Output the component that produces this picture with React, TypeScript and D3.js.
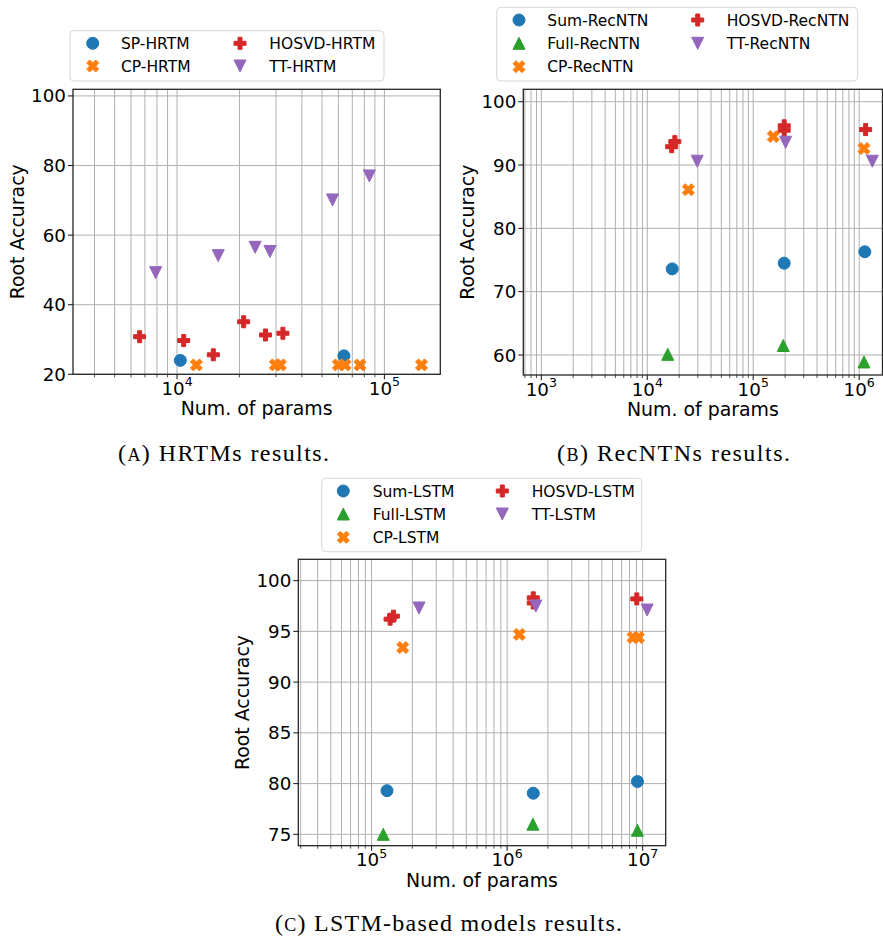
import React from "react";
import * as d3 from "d3";

// ---------------- DATA ----------------
// (A) HRTMs
const spHrtmParams = [10370, 63800];
const spHrtmAcc = [24.0, 25.3];
const cpHrtmParams = [12400, 29800, 31500, 60000, 64600, 76200, 151000];
const cpHrtmAcc = [22.7, 22.7, 22.7, 22.7, 22.7, 22.7, 22.7];
const hosvdHrtmParams = [6600, 10770, 14960, 20950, 26700, 32400];
const hosvdHrtmAcc = [30.8, 29.7, 25.6, 35.1, 31.3, 31.8];
const ttHrtmParams = [7890, 15800, 23800, 28060, 56200, 84600];
const ttHrtmAcc = [49.2, 54.1, 56.5, 55.3, 70.1, 77.0];

// (B) RecNTNs
const sumRecParams = [17200, 196000, 1130000];
const sumRecAcc = [73.6, 74.5, 76.3];
const fullRecParams = [15600, 192000, 1110000];
const fullRecAcc = [60.1, 61.5, 58.9];
const cpRecParams = [24400, 154600, 1110000];
const cpRecAcc = [86.1, 94.5, 92.6];
const hosvdRecParams = [17000, 18200, 196000, 196000, 1150000];
const hosvdRecAcc = [92.9, 93.7, 96.2, 95.5, 95.6];
const ttRecParams = [29600, 202000, 1330000];
const ttRecAcc = [90.6, 93.6, 90.6];

// (C) LSTM
const sumLstmParams = [130000, 1560000, 9160000];
const sumLstmAcc = [79.3, 79.05, 80.2];
const fullLstmParams = [122000, 1550000, 9160000];
const fullLstmAcc = [75.0, 76.0, 75.4];
const cpLstmParams = [170000, 1230000, 8500000, 9300000];
const cpLstmAcc = [93.4, 94.7, 94.4, 94.4];
const hosvdLstmParams = [137000, 145000, 1560000, 1560000, 9060000];
const hosvdLstmAcc = [96.2, 96.5, 98.3, 97.8, 98.2];
const ttLstmParams = [224000, 1630000, 10800000];
const ttLstmAcc = [97.3, 97.5, 97.1];

// Axis ticks
const yTicksA = [20, 40, 60, 80, 100];
const yTicksB = [60, 70, 80, 90, 100];
const yTicksC = [75, 80, 85, 90, 95, 100];
const xExpA = [4, 5];
const xExpB = [3, 4, 5, 6];
const xExpC = [5, 6, 7];

const xAxisLabel = "Num. of params";
const yAxisLabel = "Root Accuracy";

const C = {
  blue: "#1f77b4",
  orange: "#ff7f0e",
  green: "#2ca02c",
  red: "#d62728",
  purple: "#9467bd",
};

type Shape = "circle" | "x" | "plus" | "tri" | "triDown";
interface Series {
  label: string;
  xs: number[];
  ys: number[];
  color: string;
  shape: Shape;
}

function markerPath(shape: Shape, s: number): string {
  const h = s / 2;
  if (shape === "circle") {
    return `M${h},0A${h},${h} 0 1,1 ${-h},0A${h},${h} 0 1,1 ${h},0Z`;
  }
  if (shape === "tri") return `M0,${-h}L${h},${h}L${-h},${h}Z`;
  if (shape === "triDown") return `M0,${h}L${h},${-h}L${-h},${-h}Z`;
  let pts: number[][];
  if (shape === "plus") {
    pts = [[-1, -3], [1, -3], [1, -1], [3, -1], [3, 1], [1, 1], [1, 3], [-1, 3], [-1, 1], [-3, 1], [-3, -1], [-1, -1]].map(
      ([a, b]) => [(a / 6) * s, (b / 6) * s]
    );
  } else {
    pts = [[-1, -2], [0, -1], [1, -2], [2, -1], [1, 0], [2, 1], [1, 2], [0, 1], [-1, 2], [-2, 1], [-1, 0], [-2, -1]].map(
      ([a, b]) => [(a / 4) * s, (b / 4) * s]
    );
  }
  return "M" + pts.map((p) => p.join(",")).join("L") + "Z";
}

const MS = 12;

function Marker({ shape, color, x, y }: { shape: Shape; color: string; x: number; y: number }) {
  return (
    <path
      d={markerPath(shape, MS)}
      transform={`translate(${x},${y})`}
      fill={color}
      stroke={color}
      strokeWidth={1}
    />
  );
}

interface PanelProps {
  box: { left: number; top: number; right: number; bottom: number };
  xDomain: [number, number];
  yDomain: [number, number];
  yTicks: number[];
  xExps: number[];
  series: Series[];
  yLabelX: number;
  legend: { x0: number; y0: number; x1: number; y1: number; rows: number[]; mx: number[]; tx: number[]; perCol: number };
}

const FONT = "DejaVu Sans, sans-serif";

function Panel(p: PanelProps) {
  const { box } = p;
  const x = d3.scaleLog().domain(p.xDomain).range([box.left, box.right]);
  const y = d3.scaleLinear().domain(p.yDomain).range([box.bottom, box.top]);
  const allX = x.ticks();
  const grid = "#b0b0b0";
  const cy = (box.top + box.bottom) / 2;
  const cx = (box.left + box.right) / 2;
  return (
    <g>
      {allX.map((v, i) => (
        <line key={"gx" + i} x1={x(v)} x2={x(v)} y1={box.top} y2={box.bottom} stroke={grid} strokeWidth={1} />
      ))}
      {p.yTicks.map((v, i) => (
        <line key={"gy" + i} x1={box.left} x2={box.right} y1={y(v)} y2={y(v)} stroke={grid} strokeWidth={1} />
      ))}
      {allX.map((v, i) => {
        const major = p.xExps.some((e) => Math.abs(Math.pow(10, e) - v) < 1e-6 * v);
        return (
          <line
            key={"tx" + i}
            x1={x(v)}
            x2={x(v)}
            y1={box.bottom}
            y2={box.bottom + (major ? 5 : 3)}
            stroke="#222"
            strokeWidth={major ? 1.1 : 0.8}
          />
        );
      })}
      {p.yTicks.map((v, i) => (
        <line key={"ty" + i} x1={box.left - 5} x2={box.left} y1={y(v)} y2={y(v)} stroke="#222" strokeWidth={1.1} />
      ))}
      {p.yTicks.map((v, i) => (
        <text
          key={"ly" + i}
          x={box.left - 7}
          y={y(v)}
          dy="0.36em"
          textAnchor="end"
          fontFamily={FONT}
          fontSize={18.3}
          fill="#000"
        >
          {v}
        </text>
      ))}
      {p.xExps.map((e, i) => (
        <text
          key={"lx" + i}
          x={x(Math.pow(10, e))}
          y={box.bottom + 20.5}
          textAnchor="middle"
          fontFamily={FONT}
          fontSize={18.3}
          fill="#000"
        >
          10
          <tspan dy={-8.5} fontSize={12.5}>
            {e}
          </tspan>
        </text>
      ))}
      <text x={cx} y={box.bottom + 41} textAnchor="middle" fontFamily={FONT} fontSize={18.9} fill="#000">
        {xAxisLabel}
      </text>
      <text
        transform={`translate(${p.yLabelX},${cy}) rotate(-90)`}
        textAnchor="middle"
        fontFamily={FONT}
        fontSize={18.9}
        fill="#000"
      >
        {yAxisLabel}
      </text>
      <g>
        {p.series.map((s, si) =>
          s.xs.map((xv, i) => (
            <Marker key={`m${si}-${i}`} shape={s.shape} color={s.color} x={x(xv)} y={y(s.ys[i])} />
          ))
        )}
      </g>
      <rect
        x={box.left}
        y={box.top}
        width={box.right - box.left}
        height={box.bottom - box.top}
        fill="none"
        stroke="#262626"
        strokeWidth={1.3}
      />
      <g>
        <rect
          x={p.legend.x0}
          y={p.legend.y0}
          width={p.legend.x1 - p.legend.x0}
          height={p.legend.y1 - p.legend.y0}
          rx={4}
          fill="#fff"
          fillOpacity={0.8}
          stroke="#d6d6d6"
          strokeWidth={1}
        />
        {p.series.map((s, i) => {
          const col = Math.floor(i / p.legend.perCol);
          const row = i % p.legend.perCol;
          const ry = p.legend.rows[row];
          return (
            <g key={"lg" + i}>
              <Marker shape={s.shape} color={s.color} x={p.legend.mx[col]} y={ry} />
              <text x={p.legend.tx[col]} y={ry} dy="0.36em" fontFamily={FONT} fontSize={15.5} fill="#000">
                {s.label}
              </text>
            </g>
          );
        })}
      </g>
    </g>
  );
}

const seriesA: Series[] = [
  { label: "SP-HRTM", xs: spHrtmParams, ys: spHrtmAcc, color: C.blue, shape: "circle" },
  { label: "CP-HRTM", xs: cpHrtmParams, ys: cpHrtmAcc, color: C.orange, shape: "x" },
  { label: "HOSVD-HRTM", xs: hosvdHrtmParams, ys: hosvdHrtmAcc, color: C.red, shape: "plus" },
  { label: "TT-HRTM", xs: ttHrtmParams, ys: ttHrtmAcc, color: C.purple, shape: "triDown" },
];
const seriesB: Series[] = [
  { label: "Sum-RecNTN", xs: sumRecParams, ys: sumRecAcc, color: C.blue, shape: "circle" },
  { label: "Full-RecNTN", xs: fullRecParams, ys: fullRecAcc, color: C.green, shape: "tri" },
  { label: "CP-RecNTN", xs: cpRecParams, ys: cpRecAcc, color: C.orange, shape: "x" },
  { label: "HOSVD-RecNTN", xs: hosvdRecParams, ys: hosvdRecAcc, color: C.red, shape: "plus" },
  { label: "TT-RecNTN", xs: ttRecParams, ys: ttRecAcc, color: C.purple, shape: "triDown" },
];
const seriesC: Series[] = [
  { label: "Sum-LSTM", xs: sumLstmParams, ys: sumLstmAcc, color: C.blue, shape: "circle" },
  { label: "Full-LSTM", xs: fullLstmParams, ys: fullLstmAcc, color: C.green, shape: "tri" },
  { label: "CP-LSTM", xs: cpLstmParams, ys: cpLstmAcc, color: C.orange, shape: "x" },
  { label: "HOSVD-LSTM", xs: hosvdLstmParams, ys: hosvdLstmAcc, color: C.red, shape: "plus" },
  { label: "TT-LSTM", xs: ttLstmParams, ys: ttLstmAcc, color: C.purple, shape: "triDown" },
];

const SERIF = "Liberation Serif, serif";

function Caption({ x, y, letter, rest, width }: { x: number; y: number; letter: string; rest: string; width: number }) {
  return (
    <text
      x={x}
      y={y}
      textAnchor="middle"
      fontFamily={SERIF}
      fontSize={24}
      fill="#000"
      textLength={width}
      lengthAdjust="spacing"
    >
      (<tspan fontSize={18}>{letter}</tspan>) {rest}
    </text>
  );
}

export default function App() {
  return (
    <svg
      width={883}
      height={941}
      viewBox="0 0 883 941"
      style={{ position: "absolute", left: 0, top: 0, background: "#fff" }}
    >
      <rect x={0} y={0} width={883} height={941} fill="#fff" />
      <Panel
        box={{ left: 73, top: 89.3, right: 440.3, bottom: 374.3 }}
        xDomain={[3150, 186000]}
        yDomain={[20, 101.9]}
        yTicks={yTicksA}
        xExps={xExpA}
        series={seriesA}
        yLabelX={23.5}
        legend={{ x0: 70, y0: 30.7, x1: 384, y1: 81, rows: [43.3, 66], mx: [92.7, 240], tx: [121, 269.3], perCol: 2 }}
      />
      <Panel
        box={{ left: 523.3, top: 89.3, right: 882.5, bottom: 375 }}
        xDomain={[676, 1660000]}
        yDomain={[56.84, 101.96]}
        yTicks={yTicksB}
        xExps={xExpB}
        series={seriesB}
        yLabelX={473.5}
        legend={{ x0: 496.7, y0: 7.3, x1: 857.7, y1: 81, rows: [20, 43.3, 66.7], mx: [519, 697.7], tx: [547.3, 726.7], perCol: 3 }}
      />
      <Panel
        box={{ left: 298.3, top: 559.3, right: 665.7, bottom: 845.7 }}
        xDomain={[28800, 14800000]}
        yDomain={[73.88, 102.1]}
        yTicks={yTicksC}
        xExps={xExpC}
        series={seriesC}
        yLabelX={249}
        legend={{ x0: 321.7, y0: 478.3, x1: 641.7, y1: 551.7, rows: [491, 514, 537.3], mx: [343.3, 502.3], tx: [372.7, 531.7], perCol: 3 }}
      />
      <Caption x={223.5} y={461} letter="A" rest="HRTMs results." width={211} />
      <Caption x={673.5} y={461} letter="B" rest="RecNTNs results." width={233} />
      <Caption x={448.5} y={931} letter="C" rest="LSTM-based models results." width={347} />
    </svg>
  );
}
